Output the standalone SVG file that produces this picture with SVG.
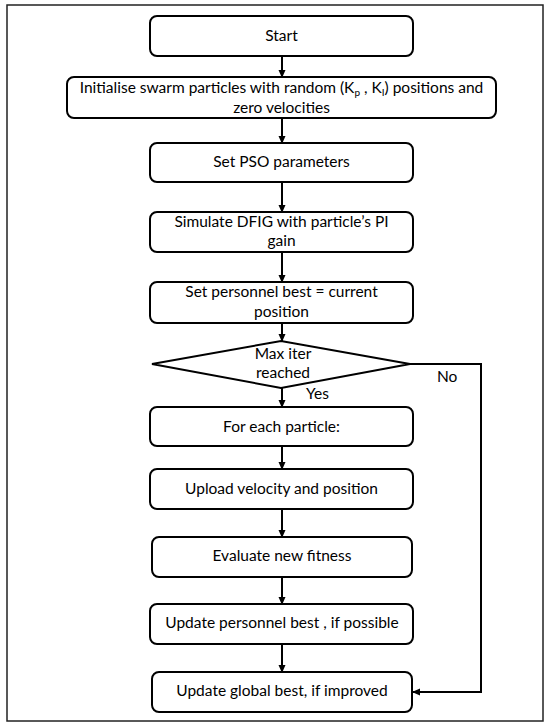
<svg xmlns="http://www.w3.org/2000/svg" width="550" height="727" viewBox="0 0 550 727">
<defs>
<style>
.box{fill:#fff;stroke:#000;stroke-width:2}
.t{font-family:Lato,"Open Sans",sans-serif;font-size:15.5px;fill:#000;text-anchor:middle}
.lbl{font-family:Lato,"Open Sans",sans-serif;font-size:15.5px;fill:#000}
.c{fill:none;stroke:#000;stroke-width:2}
</style>
<marker id="ah" markerWidth="8" markerHeight="8" refX="7" refY="4" orient="auto" markerUnits="userSpaceOnUse">
<path d="M0,0.5 L8,4 L0,7.5 Z" fill="#000"/>
</marker>
</defs>
<rect x="0" y="0" width="550" height="727" fill="#fff"/>
<rect x="7" y="5" width="536" height="716" fill="none" stroke="#222" stroke-width="1.5"/>
<g id="connectors">
<line class="c" x1="282" y1="56" x2="282" y2="77" marker-end="url(#ah)"/>
<line class="c" x1="282" y1="118" x2="282" y2="143" marker-end="url(#ah)"/>
<line class="c" x1="282" y1="182" x2="282" y2="212" marker-end="url(#ah)"/>
<line class="c" x1="282" y1="252" x2="282" y2="282" marker-end="url(#ah)"/>
<line class="c" x1="282" y1="323" x2="282" y2="341" marker-end="url(#ah)"/>
<line class="c" x1="282" y1="388" x2="282" y2="407" marker-end="url(#ah)"/>
<line class="c" x1="282" y1="446" x2="282" y2="469" marker-end="url(#ah)"/>
<line class="c" x1="282" y1="509" x2="282" y2="537" marker-end="url(#ah)"/>
<line class="c" x1="282" y1="577" x2="282" y2="604" marker-end="url(#ah)"/>
<line class="c" x1="282" y1="644" x2="282" y2="672" marker-end="url(#ah)"/>
<polyline class="c" points="410,364 481,364 481,692 413,692" marker-end="url(#ah)"/>
<text class="lbl" x="437" y="382">No</text>
<text class="lbl" x="306" y="399">Yes</text>
</g>
<g id="start"><rect class="box" x="150" y="16" width="263" height="40" rx="7"/><text class="t" x="281.5" y="41">Start</text></g>
<g id="init"><rect class="box" x="67" y="77" width="429" height="41" rx="7"/>
<text class="t" x="281.5" y="93">Initialise swarm particles with random (K<tspan font-size="10" dy="3">p</tspan><tspan dy="-3"> , K</tspan><tspan font-size="10" dy="3">I</tspan><tspan dy="-3">) positions and</tspan></text>
<text class="t" x="281.5" y="113">zero velocities</text></g>
<g id="pso"><rect class="box" x="150" y="143" width="263" height="39" rx="7"/><text class="t" x="281.5" y="167">Set PSO parameters</text></g>
<g id="simulate"><rect class="box" x="150" y="212" width="263" height="40" rx="7"/><text class="t" x="281.5" y="227">Simulate DFIG with particle’s PI</text><text class="t" x="281.5" y="246">gain</text></g>
<g id="pbest"><rect class="box" x="150" y="282" width="263" height="41" rx="7"/><text class="t" x="281.5" y="297">Set personnel best = current</text><text class="t" x="281.5" y="317">position</text></g>
<g id="decision"><polygon class="box" points="152,364 281,341 410,364 281,388"/><text class="t" x="283" y="359">Max iter</text><text class="t" x="283" y="378">reached</text></g>
<g id="each"><rect class="box" x="150" y="407" width="263" height="39" rx="7"/><text class="t" x="281.5" y="432">For each particle:</text></g>
<g id="upload"><rect class="box" x="150" y="469" width="263" height="40" rx="7"/><text class="t" x="281.5" y="494">Upload velocity and position</text></g>
<g id="evaluate"><rect class="box" x="152" y="537" width="260" height="40" rx="7"/><text class="t" x="282" y="561">Evaluate new fitness</text></g>
<g id="updpbest"><rect class="box" x="150" y="604" width="263" height="40" rx="7"/><text class="t" x="282" y="628">Update personnel best , if possible</text></g>
<g id="updgbest"><rect class="box" x="152" y="672" width="260" height="40" rx="7"/><text class="t" x="282" y="696">Update global best, if improved</text></g>
</svg>
